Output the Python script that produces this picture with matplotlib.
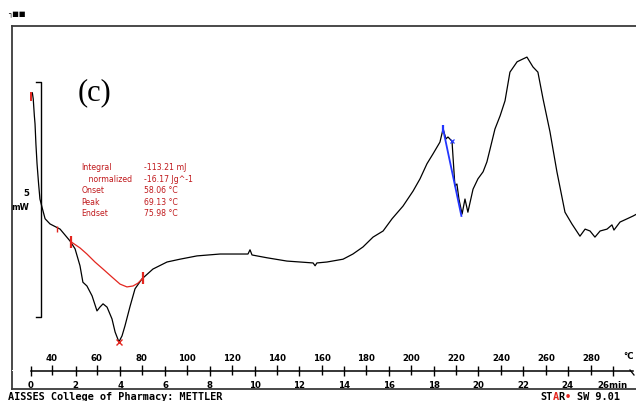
import matplotlib
matplotlib.use("Agg")
import matplotlib.pyplot as plt

# ---------------- data (time in min, heat flow in mW) ----------------
time_min = [0.06, 0.10, 0.15, 0.18, 0.22, 0.27, 0.34, 0.40, 0.49, 0.63, 0.85, 1.30, 1.74, 1.97,
            2.19, 2.32, 2.50, 2.73, 2.95, 3.08, 3.22, 3.40, 3.62, 3.76, 3.93, 4.07, 4.20, 4.43,
            4.65, 4.96, 5.45, 6.08, 6.66, 7.42, 8.45, 9.70, 9.79, 9.88, 10.10, 10.55, 11.44,
            12.03, 12.61, 12.70, 12.78, 13.23, 13.95, 14.39, 14.84, 15.29, 15.74, 16.14, 16.63,
            17.08, 17.39, 17.70, 17.97, 18.28, 18.42, 18.55, 18.64, 18.82, 18.95, 19.04, 19.13,
            19.27, 19.40, 19.53, 19.76, 19.98, 20.21, 20.38, 20.52, 20.74, 20.97, 21.19, 21.41,
            21.73, 21.99, 22.17, 22.44, 22.66, 22.89, 23.20, 23.51, 23.87, 24.18, 24.54, 24.77,
            24.99, 25.21, 25.44, 25.75, 25.97, 26.06, 26.33, 26.65, 26.92, 27.23]
heat_flow_mw = [4.77, 4.64, 4.28, 4.11, 3.68, 3.26, 2.83, 2.51, 2.34, 2.09, 1.98, 1.87, 1.62, 1.45,
                1.09, 0.74, 0.66, 0.45, 0.13, 0.21, 0.28, 0.21, -0.04, -0.32, -0.53, -0.40, -0.19, 0.23,
                0.60, 0.81, 1.02, 1.17, 1.23, 1.30, 1.34, 1.34, 1.43, 1.32, 1.30, 1.26, 1.19,
                1.17, 1.15, 1.09, 1.15, 1.17, 1.23, 1.34, 1.49, 1.70, 1.83, 2.09, 2.36,
                2.68, 2.94, 3.26, 3.47, 3.72, 4.00, 3.79, 3.83, 3.74, 2.79, 2.83, 2.51,
                2.19, 2.51, 2.23, 2.72, 2.94, 3.09, 3.30, 3.57, 4.00, 4.28, 4.60, 5.21,
                5.43, 5.49, 5.53, 5.32, 5.21, 4.64, 3.94, 3.09, 2.23, 1.98, 1.72, 1.87,
                1.83, 1.70, 1.83, 1.87, 1.96, 1.85, 2.02, 2.09, 2.15, 2.23]

baseline_time = [1.79, 2.19, 2.50, 2.86, 3.22, 3.62, 3.98, 4.29, 4.56, 4.78, 5.01]
baseline_mw = [1.60, 1.47, 1.34, 1.17, 1.02, 0.85, 0.70, 0.64, 0.66, 0.72, 0.83]

tangent_time = [18.42, 19.24]
tangent_mw = [4.00, 2.15]

time_ticks = list(range(0, 27, 2))
time_labels = [str(v) for v in time_ticks[:-1]] + ["26min"]
temp_ticks = list(range(40, 281, 20))
T0, RATE = 30.65, 9.96          # temperature programme (°C, °C/min)
scale_bar_mw = 5

result_names = ["Integral", "   normalized", "Onset", "Peak", "Endset"]
result_values = ["-113.21 mJ", "-16.17 Jg^-1", "58.06 \u00b0C", "69.13 \u00b0C", "75.98 \u00b0C"]

# ---------------- figure ----------------
W, H = 636, 402
fig = plt.figure(figsize=(W / 100, H / 100), dpi=100)
fig.patch.set_facecolor("white")


def box(x0, y0, x1, y1):
    return [x0 / W, 1 - y1 / H, (x1 - x0) / W, (y1 - y0) / H]


PX_MIN, PX_MW = 22.37, 47.0
X0PX, Y0PX = 31, 318
ax = fig.add_axes(box(12, 27, 640, 390))
ax.set_xlim((12 - X0PX) / PX_MIN, (640 - X0PX) / PX_MIN)
ax.set_ylim((Y0PX - 390) / PX_MW, (Y0PX - 27) / PX_MW)
ax.set_xticks([])
ax.set_yticks([])
for s in ["left", "top", "bottom"]:
    ax.spines[s].set_color("#3a3a3a")
    ax.spines[s].set_linewidth(1.3)
ax.spines["right"].set_visible(False)

red = "#e3261f"
dred = "#c0191c"
# curve
ax.plot(time_min, heat_flow_mw, color="black", lw=0.9, zorder=3)
# integration baseline
ax.plot(baseline_time, baseline_mw, color=red, lw=0.9, zorder=4)
ax.plot([baseline_time[0], baseline_time[-1]], [baseline_mw[0], baseline_mw[-1]],
        ls="none", marker="|", ms=9, mew=1.6, color=red, zorder=5)
imin = heat_flow_mw.index(min(heat_flow_mw))
ax.plot([time_min[imin]], [heat_flow_mw[imin]], ls="none", marker="x", ms=4.5, mew=1.0,
        color=red, zorder=5)
ax.plot([time_min[0] - 0.08, time_min[0] - 0.08], [heat_flow_mw[0] - 0.15, heat_flow_mw[0]],
        color=red, lw=1.4, zorder=5)
ax.plot([1.15], [1.88], ls="none", marker="|", ms=4, mew=1.0, color=red, zorder=5)
# tangent (blue)
ax.plot(tangent_time, tangent_mw, color="#2336ff", lw=1.3, zorder=4)
ax.plot([tangent_time[0]], [tangent_mw[0]], ls="none", marker="|", ms=6, mew=1.6, color="#2336ff", zorder=5)
ax.plot([18.84], [3.74], ls="none", marker="x", ms=3.5, mew=0.9, color="#2336ff", zorder=5)

# scale bar 5 mW
bar_t, tick_t = 0.43, 0.22
ax.plot([tick_t, bar_t, bar_t, tick_t], [scale_bar_mw, scale_bar_mw, 0, 0], color="black", lw=1.0)
ax.text(-0.07, scale_bar_mw / 2 + 0.14, str(scale_bar_mw), ha="right", va="center",
        fontsize=6.2, fontweight="bold")
ax.text(-0.09, scale_bar_mw / 2 - 0.14, "mW", ha="right", va="center", fontsize=6.0, fontweight="bold")

# (c)
ax.text(2.85, 4.80, "(c)", fontsize=22, family="Liberation Serif", ha="center", va="center")

# results text
for i, (n, v) in enumerate(zip(result_names, result_values)):
    yy = 3.20 - i * 0.245
    ax.text(2.25, yy, n, fontsize=5.6, color=dred, va="center", ha="left")
    ax.text(5.05, yy, v, fontsize=5.6, color=dred, va="center", ha="left")

# ---------------- time / temperature axis ----------------
axt = fig.add_axes(box(12, 371.5, 640, 372.0))
axt.set_xlim(ax.get_xlim())
axt.patch.set_visible(False)
axt.set_yticks([])
for s in ["left", "top", "right"]:
    axt.spines[s].set_visible(False)
axt.spines["bottom"].set_bounds(0, 26.9)
axt.spines["bottom"].set_linewidth(1.1)
axt.set_xticks(time_ticks)
axt.set_xticklabels(time_labels)
axt.tick_params(axis="x", direction="inout", length=7, width=1.0, pad=2.8,
                labelsize=6.2)
for lab in axt.get_xticklabels():
    lab.set_fontweight("bold")

sec = axt.secondary_xaxis("top", functions=(lambda t: T0 + RATE * t, lambda T: (T - T0) / RATE))
sec.spines["top"].set_visible(False)
sec.set_xticks(temp_ticks)
sec.tick_params(axis="x", direction="inout", length=7, width=1.0, pad=2.5, labelsize=6.2)
for lab in sec.get_xticklabels():
    lab.set_fontweight("bold")
fig.text(628 / W, 1 - 357 / H, "\u00b0C", fontsize=6.2, fontweight="bold", ha="center", va="center")
fig.add_artist(plt.Line2D([630 / W, 634 / W], [1 - 371 / H, 1 - 376 / H], color="black", lw=0.9))

# ---------------- footer / header ----------------
fy = 1 - 400.5 / H
FS = 7.4
CW = 0.602 * FS * 100 / 72      # monospace character width in pixels
fig.text(8 / W, fy, "AISSES College of Pharmacy: METTLER", family="DejaVu Sans Mono",
         fontweight="bold", fontsize=FS, ha="left", va="baseline")
for idx, piece, col in [(0, "ST", "black"), (2, "A", "#e3261f"), (3, "R", "black"),
                        (4, "\u2022", "#e3261f"), (6, "SW 9.01", "black")]:
    fig.text((540 + idx * CW) / W, fy, piece, family="DejaVu Sans Mono",
             fontweight="bold", fontsize=FS, ha="left", va="baseline", color=col)
fig.text(8 / W, 1 - 15 / H, "\u2510\u25a0\u25a0", family="DejaVu Sans", fontsize=5,
         ha="left", va="center")

fig.savefig("out.png", dpi=100)
